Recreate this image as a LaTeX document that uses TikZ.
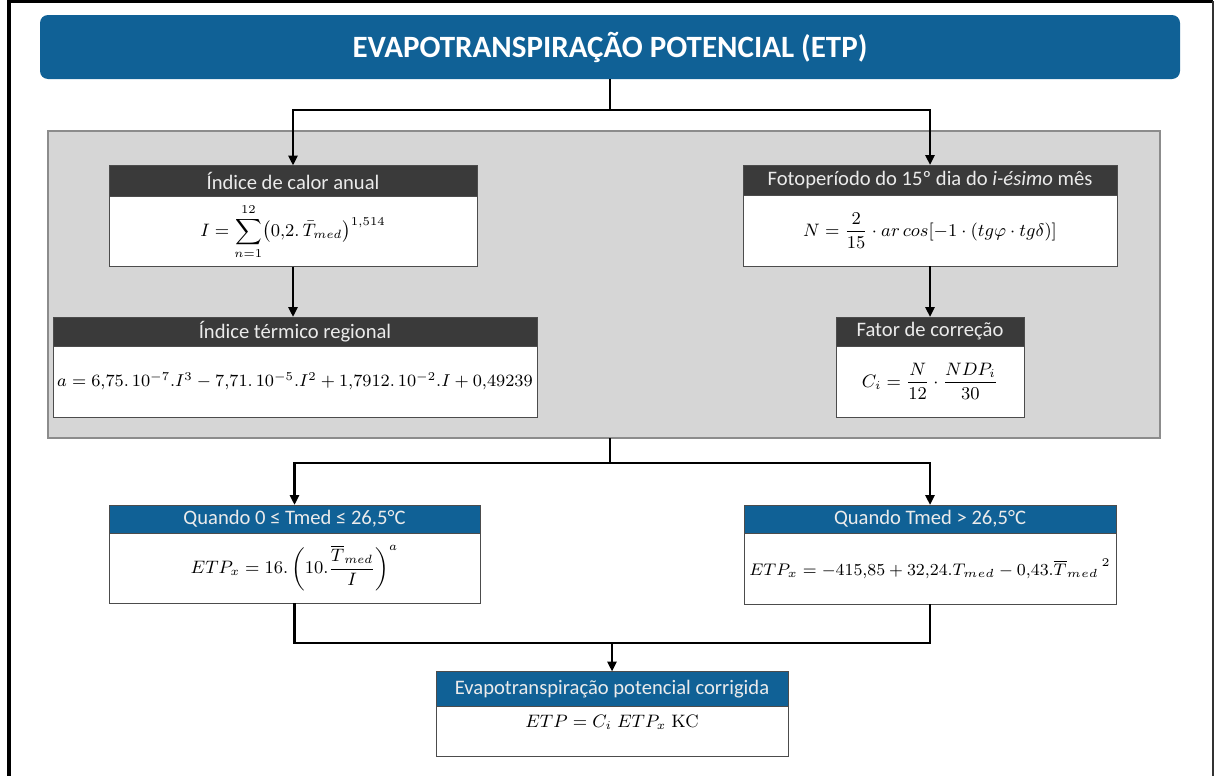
\RequirePackage{fix-cm}
\documentclass[tikz,border=0pt]{standalone}
\usepackage{amsmath}
\usepackage[no-math]{fontspec}
\setmainfont{Carlito}
\usetikzlibrary{positioning,arrows.meta}
\definecolor{etpblue}{RGB}{16,97,150}
\definecolor{hdrdark}{RGB}{58,58,58}
\definecolor{panelgray}{RGB}{214,214,214}

\begin{document}
\begin{tikzpicture}[x=0.5pt,y=-0.5pt,
title/.style={fill=etpblue,text=white,rounded corners=4pt,font=\fontsize{15.5}{17}\selectfont\bfseries,minimum width=570pt,minimum height=32pt,inner sep=0pt,outer sep=0pt},
panel/.style={draw=black!45,line width=0.6pt,fill=panelgray,minimum width=556pt,minimum height=153.5pt,inner sep=0pt,outer sep=0pt},
hdr/.style={draw=black!70,line width=0.5pt,fill=hdrdark,text=white!92!black,font=\fontsize{10.3}{12}\selectfont,inner sep=0pt,outer sep=0pt},
hdrblue/.style={hdr,fill=etpblue},
body/.style={draw=black!70,line width=0.5pt,fill=white,font=\fontsize{9}{11}\selectfont,inner sep=0pt,outer sep=0pt},
link/.style={line width=1.4pt},
arr/.style={link,-{Triangle[length=5pt,width=4.5pt]}}]
\useasboundingbox (0,0) rectangle (1216,776);
\draw[line width=1.6pt] (9,776) -- (9,1) -- (1213,1);
\draw[line width=0.8pt,black!80] (1213,1) -- (1213,776);

\node[title] (title) at (610,47) {EVAPOTRANSPIRAÇÃO POTENCIAL (ETP)};
\node[panel] (panel) at (604,284.5) {};

\node[hdr,minimum width=184pt,minimum height=15.5pt] (calorh) at (293,181) {Índice de calor anual};
\node[body,minimum width=184pt,minimum height=35pt,below=0pt of calorh] (calorb)
  {$\displaystyle I=\sum_{n=1}^{12}\bigl(0{,}2.\,\bar{T}_{med}\bigr)^{1{,}514}$};

\node[hdr,minimum width=187pt,minimum height=15pt] (fotoh) at (930,180) {Fotoperíodo do 15º dia do \textit{i-ésimo} mês};
\node[body,minimum width=187pt,minimum height=35.5pt,below=0pt of fotoh] (fotob)
  {\raisebox{5pt}{$N=\dfrac{2}{15}\cdot ar\,cos[-1\cdot(tg\varphi\cdot tg\delta)]$}};

\node[hdr,minimum width=242pt,minimum height=14.5pt] (termicoh) at (295,331.5) {Índice térmico regional};
\node[body,minimum width=242pt,minimum height=35.5pt,below=0pt of termicoh,font=\fontsize{8.6}{10}\selectfont] (termicob)
  {$a=6{,}75.\,10^{-7}.I^3-7{,}71.\,10^{-5}.I^2+1{,}7912.\,10^{-2}.I+0{,}49239$};

\node[hdr,minimum width=94pt,minimum height=14.5pt] (fatorh) at (930,331.5) {Fator de correção};
\node[body,minimum width=94pt,minimum height=35.5pt,below=0pt of fatorh] (fatorb)
  {$C_i=\dfrac{N}{12}\cdot\dfrac{NDP_i}{30}$};

\node[hdrblue,minimum width=185.5pt,minimum height=14pt] (quandoah) at (294.5,519) {Quando 0 ≤ Tmed ≤ 26,5°C};
\node[body,minimum width=185.5pt,minimum height=35pt,below=0pt of quandoah] (quandoab)
  {$ETP_x=16.\left(10.\dfrac{\overline{T}_{med}}{I}\right)^{a}$};

\node[hdrblue,minimum width=186pt,minimum height=14pt] (quandobh) at (930,519) {Quando Tmed > 26,5°C};
\node[body,minimum width=186pt,minimum height=35.5pt,below=0pt of quandobh,font=\fontsize{8.4}{10}\selectfont] (quandobb)
  {$ETP_x=-415{,}85+32{,}24.T_{med}-0{,}43.{\overline{T}_{med}}^{\,2}$};

\node[hdrblue,minimum width=176pt,minimum height=17.5pt] (finalh) at (612,689) {Evapotranspiração potencial corrigida};
\node[body,minimum width=176pt,minimum height=25pt,below=0pt of finalh] (finalb)
  {\raisebox{10pt}{$ETP=C_i\;ETP_x\;\mathrm{KC}$}};

\coordinate (split1) at (610,110);
\coordinate (split2) at (610,463);
\coordinate (merge) at (612,643);
\draw[link] (title.south) -- (split1);
\draw[arr] (split1) -| (calorh.north);
\draw[arr] (split1) -| (fotoh.north);
\draw[arr] (calorb.south) -- (calorb.south |- termicoh.north);
\draw[arr] (fotob.south) -- (fatorh.north);
\draw[link] (split2 |- panel.south) -- (split2);
\draw[arr] (split2) -| (quandoah.north);
\draw[arr] (split2) -| (quandobh.north);
\draw[link] (quandoab.south) |- (merge);
\draw[link] (quandobb.south) |- (merge);
\draw[arr] (merge) -- (finalh.north);
\end{tikzpicture}
\end{document}
